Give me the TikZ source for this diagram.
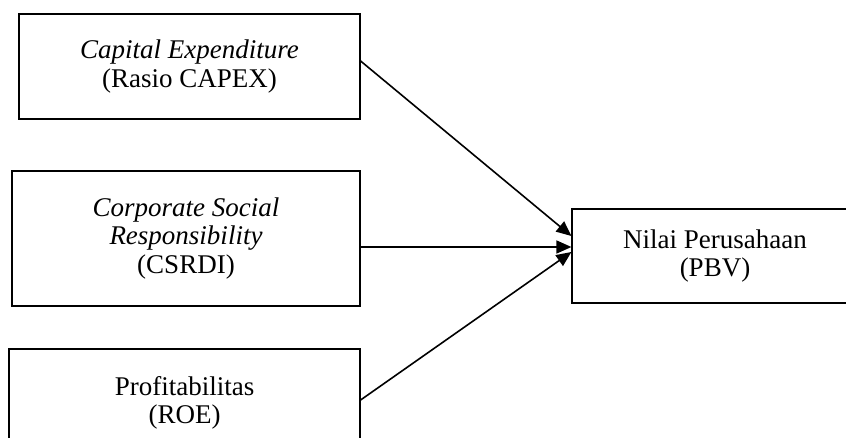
\documentclass[tikz,border=0pt]{standalone}
\usepackage{fontspec}
\setmainfont{Liberation Serif}
\usetikzlibrary{positioning,arrows.meta}

\tikzset{
  varbox/.style={draw, line width=1.2pt, align=center, font=\fontsize{27}{28.5}\selectfont},
  panah/.style={line width=1.6pt, -{Triangle[length=15pt,width=13pt]}}
}

\begin{document}
\begin{tikzpicture}[x=1pt,y=-1pt]
		\clip (0,0) rectangle (846,438);
		% variabel independen
		\node[varbox, minimum width=341pt, minimum height=105pt] (capex) at (189.5,66.5) {\textit{Capital Expenditure}\\(Rasio CAPEX)};
		\node[varbox, minimum width=348pt, minimum height=135pt] (csr) at (186,238.5) {\textit{Corporate Social}\\\textit{Responsibility}\\(CSRDI)};
		\node[varbox, minimum width=351pt, minimum height=108pt] (roe) at (184.5,403) {Profitabilitas\\(ROE)};
		% variabel dependen
		\node[varbox, minimum width=286pt, minimum height=94pt] (pbv) at (715,256) {Nilai Perusahaan\\(PBV)};
		\draw[panah] ([yshift=5.5pt]capex.east) -- ([yshift=20pt]pbv.west);
		\draw[panah] ([yshift=-8.5pt]csr.east) -- ([yshift=9pt]pbv.west);
		\draw[panah] ([yshift=3pt]roe.east) -- ([yshift=4pt]pbv.west);
	\end{tikzpicture}
\end{document}
